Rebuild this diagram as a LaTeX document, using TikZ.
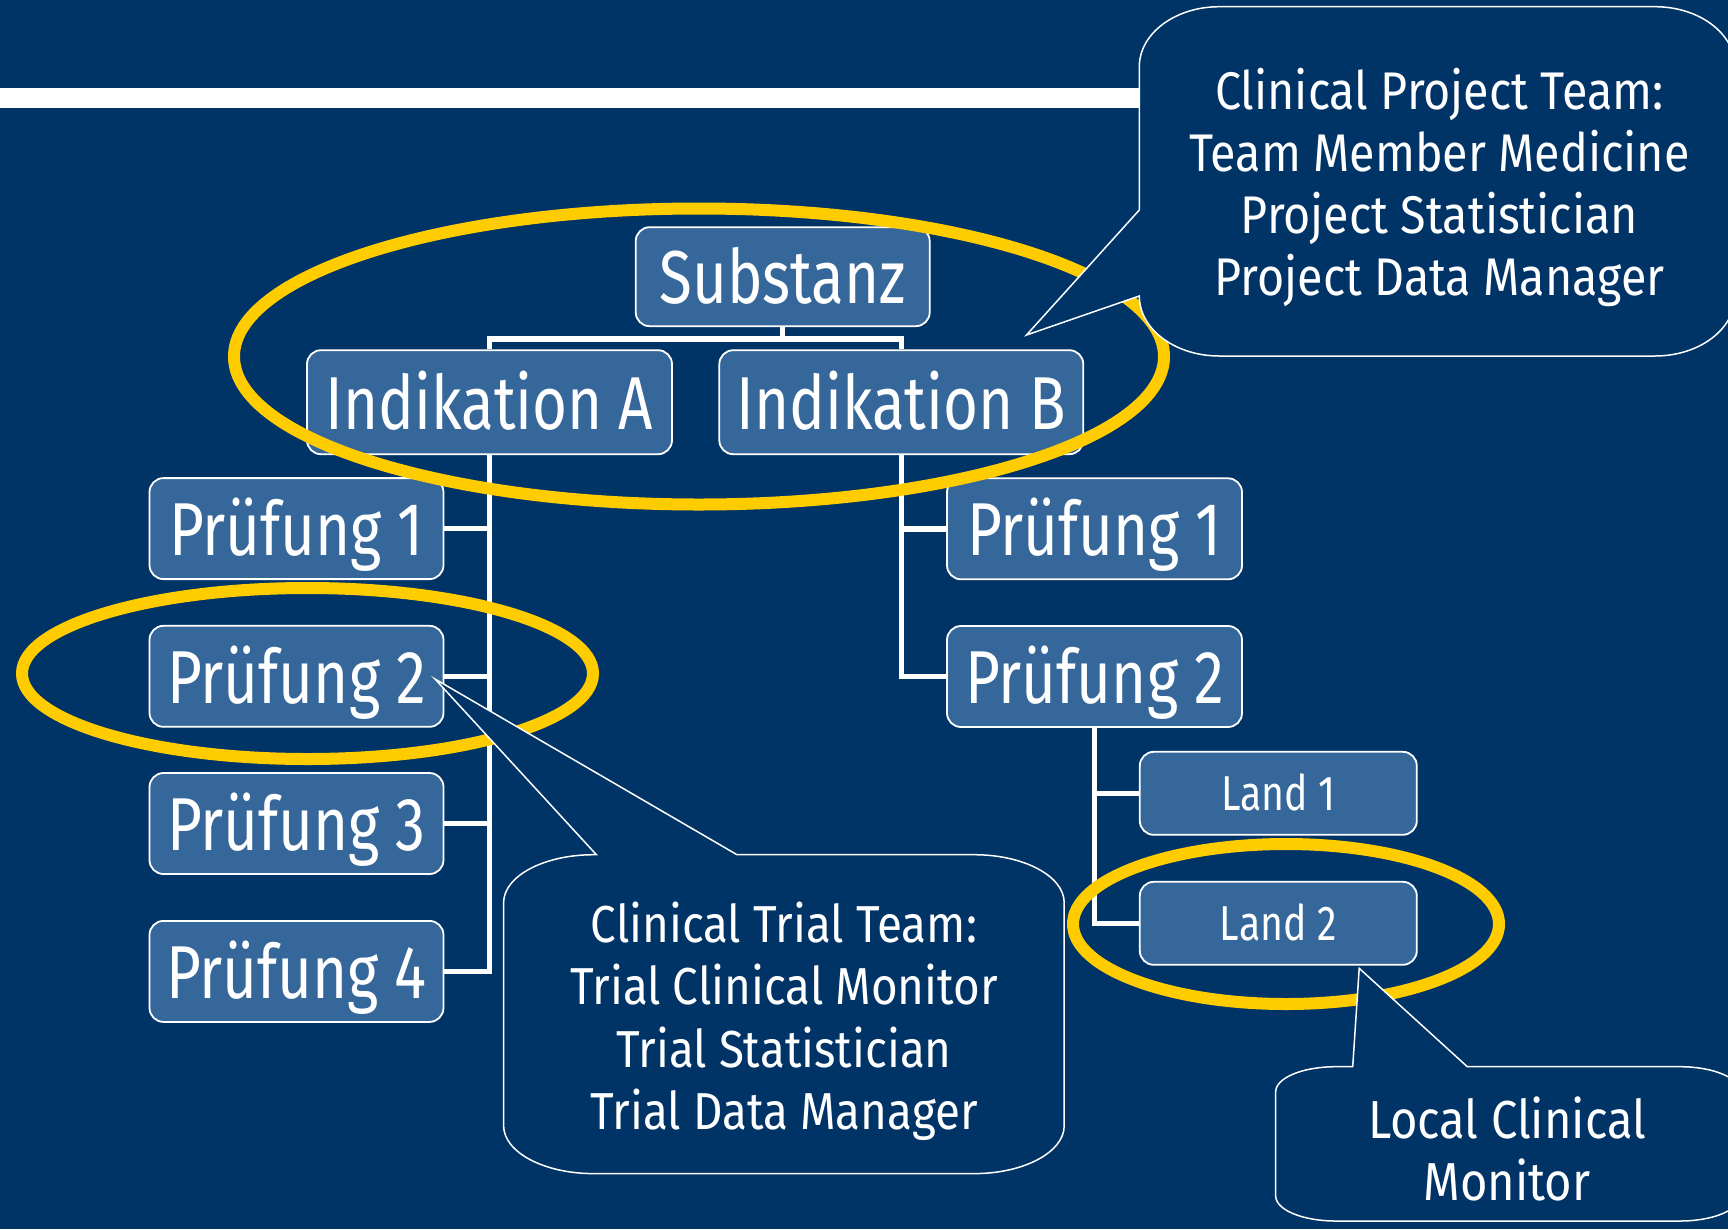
\documentclass[tikz,border=0pt]{standalone}
\usepackage{fontspec}
\setmainfont{Fira Sans}
\newfontfamily\boxfont[FakeStretch=0.80]{Fira Sans}
\newfontfamily\notefont[FakeStretch=0.88]{Fira Sans}
\usetikzlibrary{shapes.geometric}
\definecolor{navy}{RGB}{0,51,102}
\definecolor{boxblue}{RGB}{54,103,154}
\definecolor{ringyellow}{RGB}{255,204,0}

\begin{document}
\begin{tikzpicture}[x=1pt, y=-1pt,
	box/.style={draw=white, line width=1.8pt, fill=boxblue, rounded corners=14pt, text=white, inner sep=0pt, text height=54pt, text depth=0pt, font=\boxfont\fontsize{75}{75}\selectfont},
	landbox/.style={box, text height=35pt, font=\boxfont\fontsize{49}{49}\selectfont},
	link/.style={draw=white, line width=5.5pt},
	ring/.style={ellipse, draw=ringyellow, line width=12pt, inner sep=0pt},
	bubble/.style={draw=white, line width=1.5pt, fill=navy},
	bubbletext/.style={text=white, align=center}]
			%%%%% START %%%%%
			
			\fill[navy] (0,0) rectangle (1728,1229);
			\useasboundingbox (0,0) rectangle (1728,1229);
			\fill[white] (0,88.3) rectangle (1145,107.7);
			
			% tree
			\node[box, minimum width=294pt, minimum height=99pt] (sub) at (782.7,276.7) {Substanz};
			\node[box, minimum width=365pt, minimum height=104pt] (inda) at (489.5,402.2) {Indikation A};
			\node[box, minimum width=364pt, minimum height=104pt] (indb) at (901.3,402.2) {Indikation B};
			
			\foreach \i/\y in {1/528.6, 2/676.3, 3/823.5, 4/971.4}
				\node[box, minimum width=294pt, minimum height=101pt] (pa\i) at (296.5,\y) {Prüfung \i};
			\foreach \i/\y in {1/528.8, 2/676.5}
				\node[box, minimum width=295pt, minimum height=101pt] (pb\i) at (1094.5,\y) {Prüfung \i};
			\foreach \i/\y in {1/793.3, 2/923.3}
				\node[landbox, minimum width=277pt, minimum height=83pt] (land\i) at (1278.3,\y) {Land \i};
			
			\draw[link] (sub.south) -- ++(0,12) -| (inda.north);
			\draw[link] (sub.south) -- ++(0,12) -| (indb.north);
			\foreach \i in {1,...,4}
				\draw[link] (inda.south) |- (pa\i.east);
			\foreach \i in {1,2}
				\draw[link] (indb.south) |- (pb\i.west);
			\foreach \i in {1,2}
				\draw[link] (pb2.south) |- (land\i.west);
			
			% rings
			\node[ring, minimum width=930pt, minimum height=296pt] (ringtop) at (699,356.5) {};
			\node[ring, minimum width=571pt, minimum height=171pt] (ringtrial) at (307.5,673.5) {};
			\node[ring, minimum width=426pt, minimum height=160pt] (ringland) at (1286,924) {};
			
			% callouts
			\coordinate (tipproj) at (1026.5,335);
			\draw[bubble] (1139.3,66.7) arc[start angle=180, end angle=270, x radius=80, y radius=60] -- (1655,6.7) arc[start angle=270, end angle=360, x radius=80, y radius=60] -- (1735,296) arc[start angle=0, end angle=90, x radius=80, y radius=60] -- (1219.3,356) arc[start angle=90, end angle=180, x radius=80, y radius=60] -- (tipproj) -- (1139.3,210) -- cycle;
			\node[bubbletext, font=\notefont\fontsize{53}{62}\selectfont] (projtext) at (1439.5,187) {Clinical Project Team:\\Team Member Medicine\\Project Statistician\\Project Data Manager};
			
			\coordinate (tiptrial) at (435,679);
			\draw[bubble] (503.6,902.7) arc[start angle=180, end angle=270, x radius=90, y radius=48] -- (596.4,854.7) -- (tiptrial) -- (737,854.7) -- (974.2,854.7) arc[start angle=270, end angle=360, x radius=90, y radius=48] -- (1064.2,1125.6) arc[start angle=0, end angle=90, x radius=90, y radius=48] -- (593.6,1173.6) arc[start angle=90, end angle=180, x radius=90, y radius=48] -- cycle;
			\node[bubbletext, font=\notefont\fontsize{52}{62.5}\selectfont] (trialtext) at (784,1021) {Clinical Trial Team:\\Trial Clinical Monitor\\Trial Statistician\\Trial Data Manager};
			
			\coordinate (tiplocal) at (1359.2,968.3);
			\draw[bubble] (1275.7,1091.7) arc[start angle=180, end angle=270, x radius=60, y radius=25] -- (1352.7,1066.7) -- (tiplocal) -- (1467.3,1066.7) -- (1680,1066.7) arc[start angle=270, end angle=360, x radius=60, y radius=25] -- (1740,1196) arc[start angle=0, end angle=90, x radius=60, y radius=25] -- (1335.7,1221) arc[start angle=90, end angle=180, x radius=60, y radius=25] -- cycle;
			\node[bubbletext, font=\notefont\fontsize{53.5}{62}\selectfont] (localtext) at (1507,1149) {Local Clinical\\Monitor};
			
			%%%%% END %%%%%
\end{tikzpicture}
\end{document}
